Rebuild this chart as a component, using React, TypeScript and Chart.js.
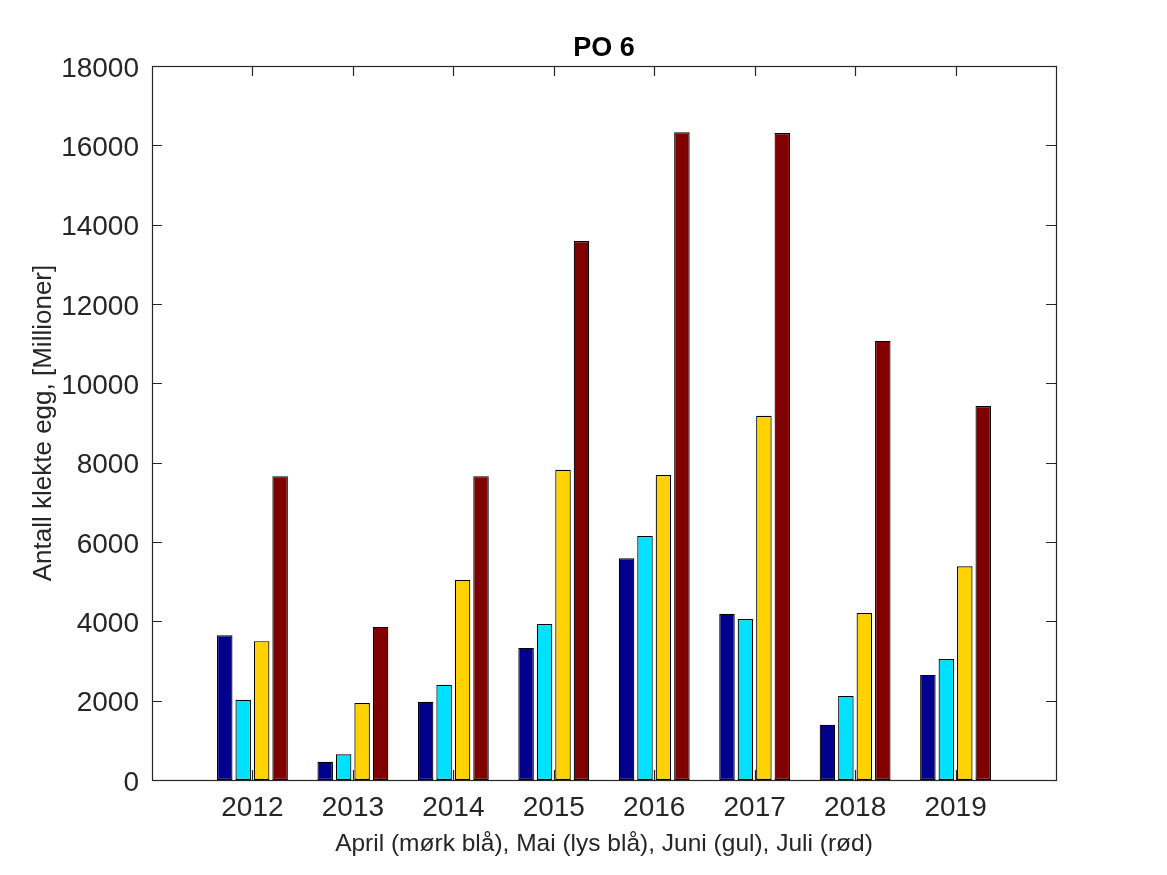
import React, { useEffect, useRef } from "react";
import { Chart, registerables } from "chart.js";

Chart.register(...registerables);

const years = [2012, 2013, 2014, 2015, 2016, 2017, 2018, 2019];
const april = [3650, 460, 1970, 3330, 5590, 4190, 1390, 2650];
const mai = [2020, 650, 2400, 3930, 6150, 4060, 2120, 3050];
const juni = [3500, 1940, 5040, 7820, 7690, 9180, 4210, 5390];
const juli = [7660, 3860, 7660, 13590, 16330, 16310, 11070, 9430];
const seriesNames = ["April", "Mai", "Juni", "Juli"];
const seriesColors = ["#00008C", "#00E1FF", "#FFD200", "#800000"];
const yTicks = [0, 2000, 4000, 6000, 8000, 10000, 12000, 14000, 16000, 18000];

const FONT = "'Liberation Sans', Arial, Helvetica, sans-serif";
const AXIS_COLOR = "#262626";

const W = 1167;
const H = 875;

const boxPlugin = {
  id: "matlabBox",
  afterDatasetsDraw(chart: any) {
    const { ctx, chartArea } = chart;
    const { left, right, top, bottom } = chartArea;
    const xs = chart.scales.x;
    const ys = chart.scales.y;
    ctx.save();
    ctx.strokeStyle = AXIS_COLOR;
    ctx.lineWidth = 1.2;
    ctx.strokeRect(Math.round(left) + 0.5, Math.round(top) + 0.5, Math.round(right - left), Math.round(bottom - top));
    const tl = 10;
    ctx.beginPath();
    yTicks.forEach((v) => {
      const p = Math.round(ys.getPixelForValue(v)) + 0.5;
      ctx.moveTo(left, p);
      ctx.lineTo(left + tl, p);
      ctx.moveTo(right, p);
      ctx.lineTo(right - tl, p);
    });
    years.forEach((v) => {
      const p = Math.round(xs.getPixelForValue(v)) + 0.5;
      ctx.moveTo(p, bottom);
      ctx.lineTo(p, bottom - tl);
      ctx.moveTo(p, top);
      ctx.lineTo(p, top + tl);
    });
    ctx.stroke();
    ctx.restore();
  },
};

export default function App() {
  const ref = useRef<HTMLCanvasElement | null>(null);

  useEffect(() => {
    if (!ref.current) return;
    const seriesValues = [april, mai, juni, juli];
    const chart = new Chart(ref.current, {
      type: "bar",
      data: {
        datasets: seriesValues.map((vals, i) => ({
          label: seriesNames[i],
          data: years.map((y, j) => ({ x: y, y: vals[j] })),
          backgroundColor: seriesColors[i],
          borderColor: "#000000",
          borderWidth: 1.2,
          borderSkipped: false,
          categoryPercentage: 0.735,
          barPercentage: 0.84,
        })),
      },
      options: {
        responsive: false,
        animation: false,
        devicePixelRatio: 1,
        layout: { padding: { left: 0, right: W - 1056, top: 0, bottom: 0 } },
        plugins: {
          legend: { display: false },
          tooltip: { enabled: false },
          title: {
            display: true,
            text: "PO 6",
            fullSize: false,
            color: "#000000",
            font: { family: FONT, size: 27, weight: "bold", lineHeight: 1.2 },
            padding: { top: 32, bottom: 66 - 32 - 27 * 1.2 },
          },
        },
        scales: {
          x: {
            type: "linear",
            min: 2011,
            max: 2020,
            offset: false,
            grid: { display: false, drawTicks: false },
            border: { display: false },
            ticks: {
              stepSize: 1,
              autoSkip: false,
              maxRotation: 0,
              padding: 11,
              color: AXIS_COLOR,
              font: { family: FONT, size: 28 },
              callback: (v: any) => (v >= 2012 && v <= 2019 ? String(v) : ""),
            },
            title: {
              display: true,
              text: "April (mørk blå), Mai (lys blå), Juni (gul), Juli (rød)",
              color: AXIS_COLOR,
              font: { family: FONT, size: 24.5, lineHeight: 1.2 },
              padding: { top: 0, bottom: 16 },
            },
            afterFit: (s: any) => {
              s.height = H - 780;
            },
          },
          y: {
            min: 0,
            max: 18000,
            grid: { display: false, drawTicks: false },
            border: { display: false },
            ticks: {
              stepSize: 2000,
              padding: 13,
              labelOffset: 3,
              color: AXIS_COLOR,
              font: { family: FONT, size: 28 },
              callback: (v: any) => String(v),
            },
            title: {
              display: true,
              text: "Antall klekte egg, [Millioner]",
              color: AXIS_COLOR,
              font: { family: FONT, size: 26, lineHeight: 1.2 },
              padding: { top: 28, bottom: 0 },
            },
            afterFit: (s: any) => {
              s.width = 152;
            },
          },
        },
      },
      plugins: [boxPlugin],
    });
    return () => chart.destroy();
  }, []);

  return (
    <div style={{ position: "absolute", left: 0, top: 0, width: W, height: H, background: "#ffffff" }}>
      <canvas ref={ref} width={W} height={H} style={{ display: "block", width: W, height: H }} />
    </div>
  );
}
